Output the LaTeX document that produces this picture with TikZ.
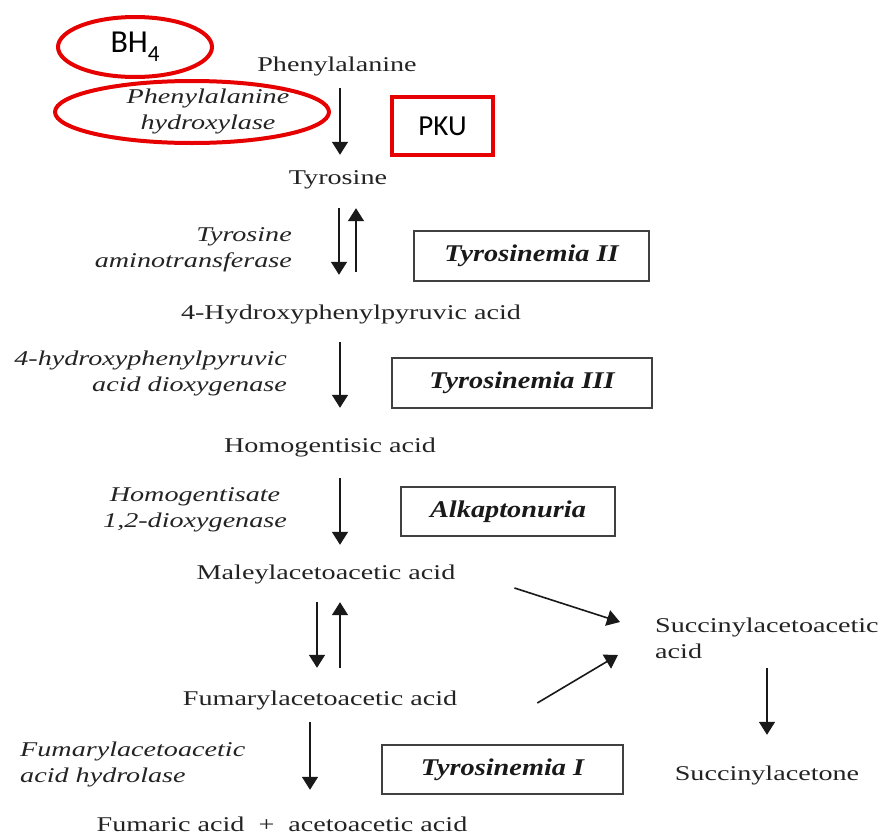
\documentclass[tikz,border=0pt]{standalone}
\usepackage{fontspec}
\setmainfont{Liberation Serif}
\newfontfamily\serfam[FakeStretch=1.34]{Liberation Serif}
\newfontfamily\boxfam[FakeStretch=1.18]{Liberation Serif}
\newfontfamily\calfam{Carlito}
\usetikzlibrary{arrows.meta,shapes.geometric}
\definecolor{tc}{RGB}{35,35,35}
\definecolor{myred}{RGB}{230,0,0}
\tikzset{
  txt/.style={font=\serfam\fontsize{21}{26}\selectfont, text=tc, inner sep=0pt, text height=15pt, text depth=5pt},
  enz/.style={font=\serfam\itshape\fontsize{21}{26}\selectfont, text=tc, inner sep=0pt},
  dis/.style={draw=black!75, line width=1.8pt, font=\boxfam\bfseries\itshape\fontsize{24}{26}\selectfont, text=black!90, inner sep=0pt},
  arr/.style={draw=black!90, line width=1.6pt, -{Triangle[length=13pt,width=16pt]}},
  redline/.style={draw=myred, line width=4pt},
}
\begin{document}
\begin{tikzpicture}[x=1pt,y=-1pt]
\useasboundingbox (0,0) rectangle (895,838);
% metabolites
\node[txt] (phe) at (337,66) {Phenylalanine};
\node[txt] (tyr) at (338,179) {Tyrosine};
\node[txt] (hpp) at (351,314) {4-Hydroxyphenylpyruvic acid};
\node[txt] (hga) at (330,447) {Homogentisic acid};
\node[txt] (maa) at (326,574) {Maleylacetoacetic acid};
\node[txt] (faa) at (320,700) {Fumarylacetoacetic acid};
\node[txt] (fum) at (282,826) {Fumaric acid \ + \ acetoacetic acid};
\node[txt, text height=, text depth=, align=left, anchor=west] (saa) at (655,638) {Succinylacetoacetic\\acid};
\node[txt] (sa) at (767,775) {Succinylacetone};
% enzymes
\node[enz, align=center] (pah) at (208,111) {Phenylalanine\\hydroxylase};
\node[enz, align=right, anchor=east] (tat) at (292,250) {Tyrosine\\aminotransferase};
\node[enz, align=right, anchor=east] (hppd) at (287,373) {4-hydroxyphenylpyruvic\\acid dioxygenase};
\node[enz, align=center] (hgd) at (195,510) {Homogentisate\\1,2-dioxygenase};
\node[enz, align=left, anchor=west] (fah) at (20,764) {Fumarylacetoacetic\\acid hydrolase};
% disease boxes
\node[dis, minimum width=235pt, minimum height=50pt] (t2) at (531.5,256) {Tyrosinemia II};
\node[dis, minimum width=260pt, minimum height=50pt] (t3) at (522,383) {Tyrosinemia III};
\node[dis, minimum width=214pt, minimum height=49pt] (alk) at (508,511.5) {Alkaptonuria};
\node[dis, minimum width=241pt, minimum height=49pt] (t1) at (502.5,769.5) {Tyrosinemia I};
% red annotations
\node[redline, rectangle, minimum width=101pt, minimum height=58pt, inner sep=0pt, font=\calfam\fontsize{29}{30}\selectfont] (pku) at (442.5,126) {PKU};
\node[redline, ellipse, minimum width=274pt, minimum height=62pt, inner sep=0pt] (pahring) at (192,112) {};
\node[redline, ellipse, minimum width=154pt, minimum height=60pt, inner sep=0pt] (bh4) at (135,47) {};
\node[inner sep=0pt, font=\calfam\fontsize{32}{34}\selectfont] (bh4txt) at (135,47) {BH\raisebox{-9pt}{\fontsize{23}{24}\selectfont 4}};
% arrows
\draw[arr, shorten <=12pt, shorten >=14pt] ([xshift=3pt]phe.south) -- ([xshift=3pt]phe.south |- tyr.north);
\draw[arr, shorten <=19pt, shorten >=29pt] ([xshift=1pt]tyr.south) -- ([xshift=1pt]tyr.south |- hpp.north);
\draw[arr, shorten <=32pt, shorten >=19pt] ([xshift=18pt]tyr.south |- hpp.north) -- ([xshift=18pt]tyr.south);
\draw[arr, shorten <=18pt, shorten >=29pt] ([xshift=10pt]hga.north |- hpp.south) -- ([xshift=10pt]hga.north);
\draw[arr, shorten <=21pt, shorten >=19pt] ([xshift=10pt]hga.south) -- ([xshift=10pt]hga.south |- maa.north);
\draw[arr, shorten <=18pt, shorten >=22pt] ([xshift=-9pt]maa.south) -- ([xshift=-9pt]maa.south |- faa.north);
\draw[arr, shorten <=22pt, shorten >=18pt] ([xshift=14pt]maa.south |- faa.north) -- ([xshift=14pt]maa.south);
\draw[arr, shorten <=12pt, shorten >=26pt] ([xshift=-10pt]faa.south) -- ([xshift=-10pt]faa.south |- fum.north);
\draw[arr] ([shift={(59,14)}]maa.east) -- ([shift={(-35,-16)}]saa.west);
\draw[arr] ([shift={(80,3)}]faa.east) -- ([shift={(-37,17)}]saa.west);
\draw[arr, shorten >=30pt] ([xshift=112pt]saa.west |- 0,668) -- ([xshift=112pt]saa.west |- sa.north);
\end{tikzpicture}
\end{document}
